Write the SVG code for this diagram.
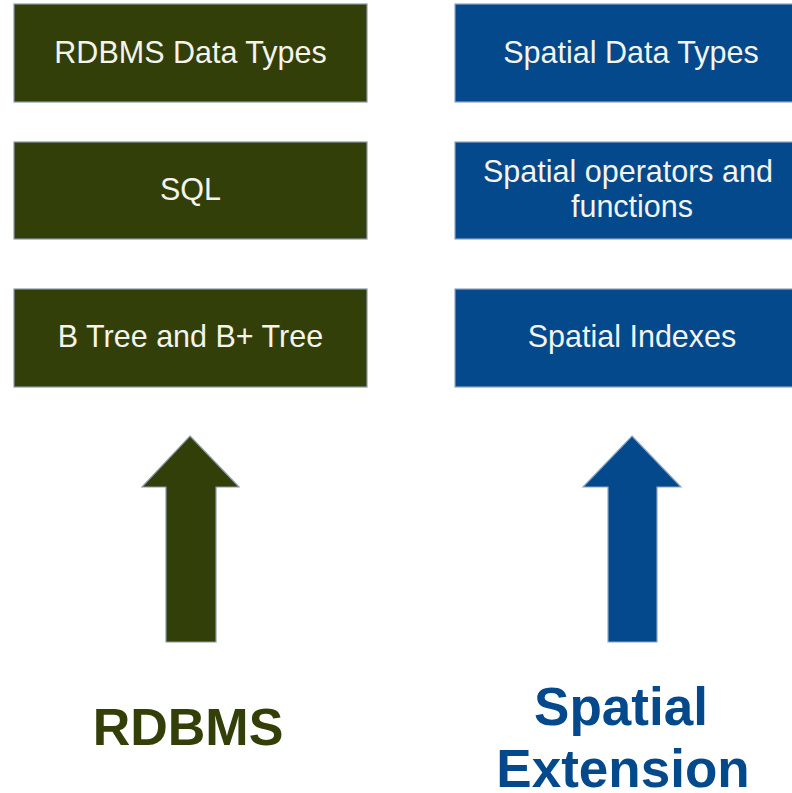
<svg xmlns="http://www.w3.org/2000/svg" width="792" height="793" viewBox="0 0 792 793">
<style>
.g{fill:#333f08;stroke:#8b98a8;stroke-width:1.2}
.b{fill:#03498c;stroke:#8ea4c0;stroke-width:1.2}
.t{font-family:"Liberation Sans",Arial,sans-serif;font-size:30.5px;fill:#f4f4ec;text-anchor:middle}
.big{font-family:"Liberation Sans",Arial,sans-serif;font-size:52px;font-weight:bold;text-anchor:middle}
</style>
<rect width="792" height="793" fill="#ffffff"/>
<g id="rdbms-data-types"><rect class="g" x="14" y="4" width="353" height="98"/><text class="t" x="190.5" y="63">RDBMS Data Types</text></g>
<g id="sql"><rect class="g" x="14" y="142" width="353" height="97"/><text class="t" x="190.5" y="200">SQL</text></g>
<g id="btree"><rect class="g" x="14" y="289" width="353" height="98"/><text class="t" x="190.5" y="347">B Tree and B+ Tree</text></g>
<g id="spatial-data-types"><rect class="b" x="455" y="4" width="353" height="98"/><text class="t" x="631" y="63">Spatial Data Types</text></g>
<g id="spatial-operators"><rect class="b" x="455" y="142" width="353" height="97"/><text class="t" x="628" y="182">Spatial operators and</text><text class="t" x="632" y="217">functions</text></g>
<g id="spatial-indexes"><rect class="b" x="455" y="289" width="353" height="98"/><text class="t" x="632" y="347">Spatial Indexes</text></g>
<g id="connectors">
<polygon class="g" points="190,436 239,487 216,487 216,642 166,642 166,487 142,487"/>
<polygon class="b" points="632,436 681,487 657,487 657,642 608,642 608,487 583,487"/>
</g>
<g id="rdbms"><text class="big" x="188" y="745" fill="#333f08">RDBMS</text></g>
<g id="spatial-extension"><text class="big" x="621" y="725" style="font-size:53px" fill="#03498c">Spatial</text><text class="big" x="623" y="787" style="font-size:53px" fill="#03498c">Extension</text></g>
</svg>
